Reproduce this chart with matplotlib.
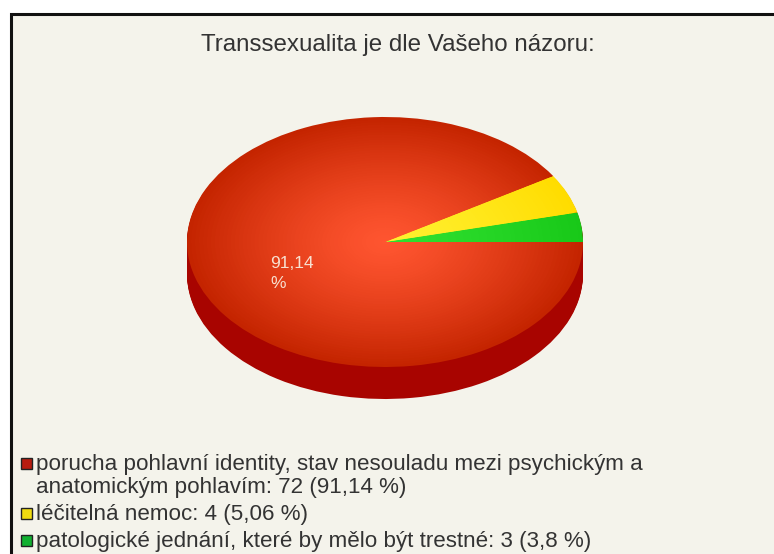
import numpy as np
import matplotlib
matplotlib.use('Agg')
import matplotlib.pyplot as plt
from matplotlib.patches import Rectangle

plt.rcParams['font.family'] = ['Liberation Sans', 'DejaVu Sans']

title = 'Transsexualita je dle Vašeho názoru:'
# order as drawn, counter-clockwise from 3 o'clock
values = [3, 4, 72]
centre_cols = ['#30e030', '#fff030', '#ff5530']
edge_cols = ['#18c818', '#ffdc00', '#c42400']
side_col = '#a80400'
label = ['91,14', '%']
legend_cols = ['#b81c10', '#f0dc10', '#10b030']
legend_lines = [['porucha pohlavní identity, stav nesouladu mezi psychickým a', 'anatomickým pohlavím: 72 (91,14 %)'],
                ['léčitelná nemoc: 4 (5,06 %)'],
                ['patologické jednání, které by mělo být trestné: 3 (3,8 %)']]

W, H = 774, 554
fig = plt.figure(figsize=(W / 100, H / 100), dpi=100, facecolor='white')

# pixel coordinate overlay
bg = fig.add_axes([0, 0, 1, 1])
bg.set_xlim(0, W)
bg.set_ylim(H, 0)
bg.axis('off')
bg.add_patch(Rectangle((11, 14), 800, 600, fc='#f4f3eb', ec='#111111', lw=2.2))

# pie, circle of radius 198 squashed into an ellipse
rx, ry, depth = 198, 125, 32
cx, cy = 385, 242
scale = rx / ry
top, bottom = 100, 420
ax = fig.add_axes([(cx - rx) / W, 1 - bottom / H, 2 * rx / W, (bottom - top) / H], zorder=2)

def blend(a, b, t):
    a = np.array(matplotlib.colors.to_rgb(a))
    b = np.array(matplotlib.colors.to_rgb(b))
    return a + (b - a) * t

# side wall
for d in np.linspace(depth, 1, 32):
    ax.pie(values, colors=[side_col] * 3, radius=rx, center=(0, -d * scale), startangle=0, frame=False)
# top face, radial shading
for r in np.linspace(1, 0.02, 50):
    cols = [blend(c, e, r ** 1.3) for c, e in zip(centre_cols, edge_cols)]
    ax.pie(values, colors=cols, radius=rx * r, center=(0, 0), startangle=0, frame=False)
ax.set_aspect('auto')
ax.set_xlim(-rx, rx)
ax.set_ylim((cy - bottom) * scale, (cy - top) * scale)
ax.axis('off')

bg.text(398, 44.5, title, ha='center', va='center', fontsize=17.4, color='#333333')

lab = fig.add_axes([0, 0, 1, 1], zorder=3)
lab.set_xlim(0, W)
lab.set_ylim(H, 0)
lab.axis('off')
lab.text(270, 264, label[0], color='#f8e0d0', fontsize=12.5, va='center', ha='left')
lab.text(270, 283, label[1], color='#f8e0d0', fontsize=12.5, va='center', ha='left')

# legend, y is the text baseline
ys = [470, 520, 547]
for col, lines, y in zip(legend_cols, legend_lines, ys):
    bg.add_patch(Rectangle((20.5, y - 12), 11, 11, fc=col, ec='#222222', lw=1))
    for i, s in enumerate(lines):
        bg.text(36, y + 23 * i, s, va='baseline', ha='left', fontsize=16.1, color='#333333')

fig.savefig('out.png', dpi=100)
